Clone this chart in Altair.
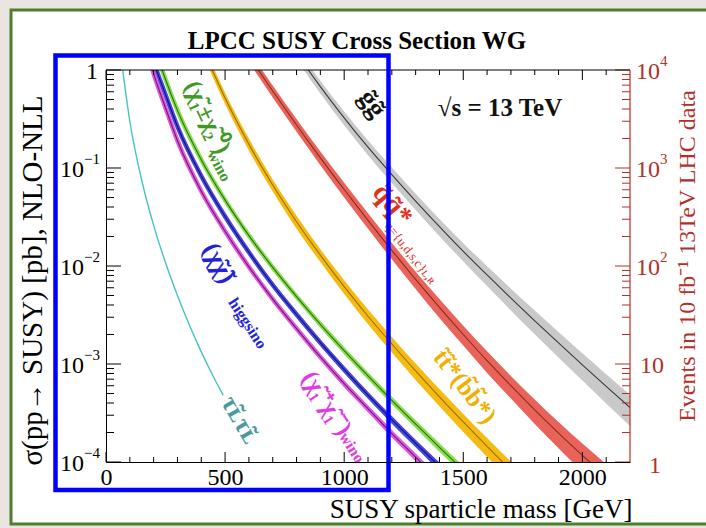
import altair as alt
import pandas as pd

# ---------------- values ----------------
gluino_mass = [750, 800, 900, 1000, 1100, 1200, 1300, 1400, 1500, 1600, 1700, 1800, 1900, 2000, 2100, 2200]
gluino_xsec = [2.27, 1.49, 0.677, 0.325, 0.163, 0.0856, 0.0460, 0.0252, 0.0141, 0.00810, 0.00470, 0.00276, 0.00164, 0.000981, 0.000591, 0.000359]
gluino_unc = [14, 14, 15, 16, 17, 18, 19, 20, 21, 23, 25, 27, 29, 31, 33, 35]

squark_mass = [550, 600, 700, 800, 900, 1000, 1100, 1200, 1300, 1400, 1500, 1600, 1700, 1800, 1900, 2000, 2100]
squark_xsec = [2.09, 1.38, 0.61, 0.275, 0.127, 0.0603, 0.0292, 0.01445, 0.0073, 0.00378, 0.0020, 0.00108, 0.00060, 0.00034, 0.000197, 0.000117, 0.000071]
squark_unc = [13, 13, 14, 15, 16, 17, 18, 19, 20, 22, 23, 25, 26, 28, 30, 32, 34]

stop_mass = [300, 400, 500, 600, 700, 800, 900, 1000, 1100, 1200, 1300, 1400, 1500, 1600, 1700, 1800]
stop_xsec = [8.52, 1.84, 0.518, 0.175, 0.0670, 0.0283, 0.0129, 0.00615, 0.00307, 0.00160, 0.00085, 0.000462, 0.000256, 0.000144, 0.000082, 0.000047]
stop_unc = [13, 13, 13, 14, 14, 15, 15, 16, 17, 18, 19, 20, 21, 22, 23, 24]

c1n2_mass = [150, 200, 250, 300, 400, 500, 600, 700, 800, 900, 1000, 1100, 1200, 1300, 1400, 1500, 1600]
c1n2_xsec = [5.0, 1.81, 0.80, 0.387, 0.1215, 0.047, 0.0204, 0.00968, 0.00487, 0.00254, 0.00137, 0.000757, 0.000426, 0.000244, 0.000141, 0.000083, 0.0000495]
c1n2_unc = [5, 5, 5, 5, 6, 6, 6, 7, 7, 7, 8, 8, 9, 9, 10, 10, 11]

higgsino_mass = [150, 200, 250, 300, 400, 500, 600, 700, 800, 900, 1000, 1100, 1200, 1300, 1400, 1500]
higgsino_xsec = [3.4, 1.22, 0.56, 0.265, 0.083, 0.032, 0.0138, 0.0064, 0.0032, 0.00165, 0.00088, 0.00048, 0.00027, 0.000155, 0.000090, 0.000053]
higgsino_unc = [5, 5, 5, 5, 6, 6, 6, 7, 7, 7, 8, 8, 9, 9, 10, 10]

c1c1_mass = [150, 200, 250, 300, 400, 500, 600, 700, 800, 900, 1000, 1100, 1200, 1300, 1400, 1500]
c1c1_xsec = [2.5, 0.92, 0.41, 0.19, 0.058, 0.0226, 0.0098, 0.0046, 0.0023, 0.00118, 0.00063, 0.00035, 0.000195, 0.000112, 0.000064, 0.000038]
c1c1_unc = [5, 5, 5, 5, 6, 6, 6, 7, 7, 7, 8, 8, 9, 9, 10, 10]

stau_mass = [60, 70, 100, 150, 200, 250, 300, 350, 400, 450, 492]
stau_xsec = [1.5, 1.0, 0.30, 0.075, 0.026, 0.0108, 0.0050, 0.0025, 0.00133, 0.00075, 0.00048]

x_major = [0, 500, 1000, 1500, 2000]
x_minor = [100, 200, 300, 400, 600, 700, 800, 900, 1100, 1200, 1300, 1400, 1600, 1700, 1800, 1900, 2100]
y_major = [0.0001, 0.001, 0.01, 0.1, 1]
y_minor = [m * d for d in [0.0001, 0.001, 0.01, 0.1] for m in range(2, 10)]
y_label_exp = ["−4", "−3", "−2", "−1"]
events_major = [1, 10, 100, 1000, 10000]
events_exp = ["2", "3", "4"]
lumi_pb = 10000  # 10 fb^-1 in pb^-1

# ---------------- layout / style ----------------
W, H = 524, 392
FONT = "Liberation Serif"
RED_AX = "#b3302a"

xscale = alt.Scale(domain=[0, 2200], nice=False, zero=False)
yscale = alt.Scale(type="log", domain=[1e-4, 1], nice=False)

xaxis = alt.Axis(values=x_major, format="d", ticks=False, grid=False, domainColor="black", domainWidth=1,
                 labelFont=FONT, labelFontSize=24, labelColor="black", labelPadding=3,
                 labelFlush=False, labelOverlap=False, zindex=1,
                 title="SUSY sparticle mass [GeV]", titleFont=FONT, titleFontSize=27,
                 titleFontWeight="normal", titleColor="black", titleX=526, titleY=55,
                 titleAlign="right", titleBaseline="alphabetic")
yaxis = alt.Axis(labels=False, ticks=False, grid=False, domainColor="black", domainWidth=1,
                 zindex=1,
                 title="σ(pp→ SUSY) [pb], NLO-NLL", titleFont=FONT, titleFontSize=29,
                 titleFontWeight="normal", titleColor="black", titleX=-74, titleY=210,
                 titleAngle=270, titleAlign="center", titleBaseline="middle")


def X(field="m"):
    return alt.X(f"{field}:Q", scale=xscale, axis=xaxis)


def Y(field):
    return alt.Y(f"{field}:Q", scale=yscale, axis=yaxis)


one = pd.DataFrame({"a": [0]})
layers = []

# white panel with green frame
layers.append(alt.Chart(one).mark_rect(fill="white", stroke="#4e7f2e", strokeWidth=3).encode(
    x=alt.value(-95), x2=alt.value(614), y=alt.value(-60), y2=alt.value(454)))


def band(mass, xsec, unc, band_col, line_col, thick=0.0):
    df = pd.DataFrame({"m": mass, "xs": xsec,
                       "lo": [x * (1 - u / 100) for x, u in zip(xsec, unc)],
                       "hi": [x * (1 + u / 100) for x, u in zip(xsec, unc)]})
    out = [alt.Chart(df).mark_area(color=band_col, clip=True, interpolate="monotone").encode(
        x=X(), y=Y("lo"), y2="hi:Q")]
    if thick:
        out.append(alt.Chart(df).mark_line(color=band_col, strokeWidth=thick, clip=True,
                                           interpolate="monotone").encode(x=X(), y=Y("xs")))
    out.append(alt.Chart(df).mark_line(color=line_col, strokeWidth=1.1, clip=True,
                                       interpolate="monotone").encode(x=X(), y=Y("xs")))
    return out


layers += band(gluino_mass, gluino_xsec, gluino_unc, "#c9c9c9", "#3a3a3a")
layers += band(squark_mass, squark_xsec, squark_unc, "#e8645a", "#8a2a20")
layers += band(stop_mass, stop_xsec, stop_unc, "#f6bb12", "#9a6e00")
layers += band(c1n2_mass, c1n2_xsec, c1n2_unc, "#86e04a", "#2f6f1a", thick=4.5)
layers += band(higgsino_mass, higgsino_xsec, higgsino_unc, "#4646e2", "#15157a", thick=4.5)
layers += band(c1c1_mass, c1c1_xsec, c1c1_unc, "#e05ae0", "#7a157a", thick=4.5)
layers.append(alt.Chart(pd.DataFrame({"m": stau_mass, "xs": stau_xsec})).mark_line(
    color="#44c4c4", strokeWidth=1.4, clip=True, interpolate="monotone").encode(x=X(), y=Y("xs")))

# ticks (inward) on all four sides
dxM = pd.DataFrame({"m": x_major})
dxm = pd.DataFrame({"m": x_minor})
for d, ln in [(dxM, 10), (dxm, 5)]:
    layers.append(alt.Chart(d).mark_rule(color="black", strokeWidth=1).encode(
        x=X(), y=alt.value(H), y2=alt.value(H - ln)))
    layers.append(alt.Chart(d).mark_rule(color="black", strokeWidth=1).encode(
        x=X(), y=alt.value(0), y2=alt.value(ln)))
dyM = pd.DataFrame({"v": y_major})
dym = pd.DataFrame({"v": y_minor})
for d, ln in [(dyM, 15), (dym, 8)]:
    layers.append(alt.Chart(d).mark_rule(color="black", strokeWidth=1).encode(
        y=Y("v"), x=alt.value(0), x2=alt.value(ln)))
    layers.append(alt.Chart(d).mark_rule(color=RED_AX, strokeWidth=1).encode(
        y=Y("v"), x=alt.value(W), x2=alt.value(W - ln)))

# top and right frame lines
layers.append(alt.Chart(one).mark_rule(color="black", strokeWidth=1).encode(
    x=alt.value(0), x2=alt.value(W), y=alt.value(0)))
layers.append(alt.Chart(one).mark_rule(color=RED_AX, strokeWidth=1.2).encode(
    x=alt.value(W), y=alt.value(0), y2=alt.value(H)))

# left axis labels (10^n)
dl = pd.DataFrame({"v": y_major[:4], "e": y_label_exp})
layers.append(alt.Chart(pd.DataFrame({"v": [1]})).mark_text(
    text="1", font=FONT, fontSize=24, align="right", baseline="middle", dy=2, color="black").encode(
    y=Y("v"), x=alt.value(-8)))
layers.append(alt.Chart(dl).mark_text(
    text="10", font=FONT, fontSize=24, align="right", baseline="middle", dy=2, color="black").encode(
    y=Y("v"), x=alt.value(-22)))
layers.append(alt.Chart(dl).mark_text(
    font=FONT, fontSize=15, align="left", baseline="middle", dy=-9, color="black").encode(
    y=Y("v"), x=alt.value(-22), text="e:N"))

# right axis labels (events)
ev_sig = [e / lumi_pb for e in events_major]
layers.append(alt.Chart(pd.DataFrame({"v": ev_sig[:1]})).mark_text(
    text="1", font=FONT, fontSize=24, align="center", baseline="middle", dy=4, color=RED_AX).encode(
    y=Y("v"), x=alt.value(W + 25)))
layers.append(alt.Chart(pd.DataFrame({"v": ev_sig[1:2]})).mark_text(
    text="10", font=FONT, fontSize=24, align="center", baseline="middle", dy=2, color=RED_AX).encode(
    y=Y("v"), x=alt.value(W + 22)))
dr = pd.DataFrame({"v": ev_sig[2:], "e": events_exp})
layers.append(alt.Chart(dr).mark_text(
    text="10", font=FONT, fontSize=24, align="center", baseline="middle", dy=2, color=RED_AX).encode(
    y=Y("v"), x=alt.value(W + 18)))
layers.append(alt.Chart(dr).mark_text(
    font=FONT, fontSize=15, align="left", baseline="middle", dy=-9, color=RED_AX).encode(
    y=Y("v"), x=alt.value(W + 30), text="e:N"))
layers.append(alt.Chart(one).mark_text(
    text="Events in 10 fb⁻¹ 13TeV LHC data", font=FONT, fontSize=24, angle=270,
    align="center", baseline="middle", color=RED_AX).encode(x=alt.value(W + 58), y=alt.value(186)))

# title
layers.append(alt.Chart(one).mark_text(
    text="LPCC SUSY Cross Section WG", font=FONT, fontSize=25, fontWeight="bold",
    align="center", baseline="alphabetic", color="black").encode(x=alt.value(251), y=alt.value(-21)))

# curve labels (anchored in data coordinates)
annotations = [
    ("g̃g̃", 1117, 0.45, "#111111", 55, 27, "bold"),
    ("√s = 13 TeV", 1654, 0.41, "#111111", 0, 25, "bold"),
    ("(χ̃₁±χ̃₂⁰)", 428, 0.33, "#3f9a25", 65, 25, "bold"),
    ("wino", 474, 0.105, "#3f9a25", 62, 16, "bold"),
    ("(χ̃χ̃)", 474, 0.0107, "#2323d6", 62, 26, "bold"),
    ("higgsino", 594, 0.0026, "#2323d6", 57, 16, "bold"),
    ("τ̃ʟτ̃ʟ", 563, 0.00027, "#4a9a9a", 60, 26, "bold"),
    ("(χ̃₁⁺χ̃₁⁻)", 928, 0.00040, "#e03ce0", 57, 25, "bold"),
    ("wino", 1032, 0.00014, "#e03ce0", 57, 16, "bold"),
    ("q̃q̃*", 1201, 0.042, "#e0301e", 50, 28, "bold"),
    ("q={u,d,s,c}ʟ,ʀ", 1278, 0.0135, "#e0301e", 52, 13, "normal"),
    ("t̃t̃*(b̃b̃*)", 1507, 0.00059, "#f0b000", 52, 25, "bold"),
]
for txt, m, s, col, ang, size, wt in annotations:
    layers.append(alt.Chart(pd.DataFrame({"m": [m], "v": [s]})).mark_text(
        text=txt, font=FONT, fontSize=size, fontWeight=wt, angle=ang, align="center",
        baseline="middle", color=col).encode(x=X(), y=Y("v")))

# blue highlight box
layers.append(alt.Chart(one).mark_rect(fillOpacity=0, stroke="#0000ff", strokeWidth=4.5).encode(
    x=alt.value(-50.5), x2=alt.value(282.5), y=alt.value(-14.5), y2=alt.value(420)))

chart = alt.layer(*layers).properties(
    width=W, height=H,
    autosize=alt.AutoSizeParams(type="none"),
    padding={"left": 106, "top": 70, "right": 76, "bottom": 66},
    background="#ebe5e1",
).configure_view(strokeWidth=0)

chart.save("out.html", embed_options={"renderer": "svg", "actions": False})
